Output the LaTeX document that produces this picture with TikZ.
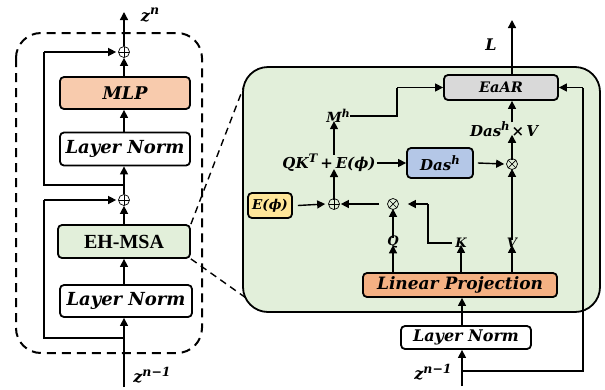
\documentclass[tikz,border=0pt]{standalone}
\usepackage{fontspec}
\usepackage{graphicx}
\setmainfont{DejaVu Serif}
\newfontfamily\timesf{Liberation Serif}
\usetikzlibrary{arrows.meta}
\newcommand\sups[1]{\raisebox{0.4em}{\scalebox{0.78}{#1}}}
\definecolor{mlpc}{HTML}{F8CBAD}
\definecolor{greenc}{HTML}{E2EFDA}
\definecolor{grayc}{HTML}{D9D9D9}
\definecolor{bluec}{HTML}{B4C7E7}
\definecolor{yellowc}{HTML}{FFE699}
\definecolor{lpc}{HTML}{F4B183}
\tikzset{
  box/.style={draw, line width=1.8pt, rounded corners=4pt, inner sep=0pt, font=\bfseries\itshape},
  arr/.style={line width=1.4pt, -{Triangle[length=8pt,width=8pt]}},
  ln/.style={line width=1.4pt},
  lab/.style={inner sep=0pt, font=\bfseries\itshape},
  opl/.style={circle, draw, line width=0.7pt, minimum size=11pt, inner sep=0pt,
    path picture={\draw[line width=0.7pt] (path picture bounding box.north) -- (path picture bounding box.south) (path picture bounding box.west) -- (path picture bounding box.east);}},
  otm/.style={circle, draw, line width=0.7pt, minimum size=11pt, inner sep=0pt,
    path picture={\draw[line width=0.7pt] (path picture bounding box.north west) -- (path picture bounding box.south east) (path picture bounding box.south west) -- (path picture bounding box.north east);}},
}
\begin{document}
\begin{tikzpicture}[x=1pt,y=-1pt]
\useasboundingbox (0,0) rectangle (605,389);
% ---------- left block ----------
\draw[line width=2pt, dash pattern=on 9pt off 6pt, rounded corners=25pt] (16,33) rectangle (202,353);
\node[opl] (p1) at (124,52) {};
\node[opl] (p2) at (124,200) {};
\node[box, fill=mlpc, minimum width=130pt, minimum height=32pt, font=\fontsize{17.5}{20}\selectfont\bfseries\itshape] (mlp) at (125,93) {MLP};
\node[box, fill=white, minimum width=130pt, minimum height=33pt, font=\fontsize{18}{20}\selectfont\bfseries\itshape] (ln1) at (125,149) {Layer Norm};
\node[box, fill=greenc, minimum width=132pt, minimum height=33pt, font=\fontsize{20}{22}\selectfont\timesf\bfseries] (eh) at (124,241.5) {EH-MSA};
\node[box, fill=white, minimum width=132pt, minimum height=32pt, font=\fontsize{18}{20}\selectfont\bfseries\itshape] (ln2) at (126,301) {Layer Norm};
\coordinate (zt) at (124,12);
\coordinate (zb) at (124,387);
\node[lab, font=\fontsize{16}{18}\selectfont\bfseries\itshape] (zn) at (150,15) {z\sups{n}};
\node[lab, font=\fontsize{16}{18}\selectfont\bfseries\itshape] (znm) at (152,375) {z\sups{n−1}};
\draw[arr] (p1.north) -- (zt);
\draw[arr] (mlp.north -| p1) -- (p1.south);
\draw[arr] (ln1.north -| p1) -- (mlp.south -| p1);
\draw[arr] (p2.north) -- (ln1.south -| p2);
\draw[arr] (eh.north -| p2) -- (p2.south);
\draw[arr] (ln2.north -| p2) -- (eh.south -| p2);
\draw[arr] (zb) -- (ln2.south -| zb);
\coordinate (s1) at (124,185);
\coordinate (s2) at (124,338);
\draw[ln] (s1) -- (44,185) -- (44,52);
\draw[arr] (44,52) -- ([xshift=-2pt]p1.west);
\draw[ln] (s2) -- (44,338) -- (44,200);
\draw[arr] (44,200) -- ([xshift=-2pt]p2.west);
% ---------- dashed zoom lines ----------
\coordinate (g1) at (244,86);
\coordinate (g2) at (256,305);
\draw[line width=1.4pt, dash pattern=on 7pt off 5pt] (eh.north east) -- (g1);
\draw[line width=1.4pt, dash pattern=on 7pt off 5pt] (eh.south east) -- (g2);
% ---------- right panel ----------
\draw[line width=1.8pt, fill=greenc, rounded corners=25pt] (243,67) rectangle (600,312);
\node[box, fill=grayc, minimum width=114pt, minimum height=25pt, font=\fontsize{14.5}{16}\selectfont\bfseries\itshape] (ear) at (501,87.5) {EaAR};
\node[box, fill=bluec, minimum width=66pt, minimum height=30pt, font=\fontsize{15}{17}\selectfont\bfseries\itshape] (das) at (440,163) {Das\sups{h}};
\node[box, fill=yellowc, minimum width=44pt, minimum height=25pt, font=\fontsize{13.5}{16}\selectfont\bfseries\itshape] (ephi) at (270,205.5) {E(ϕ)};
\node[box, fill=lpc, minimum width=194pt, minimum height=24pt, font=\fontsize{17}{18}\selectfont\bfseries\itshape] (lp) at (460,285) {Linear Projection};
\node[box, fill=white, minimum width=130pt, minimum height=23pt, font=\fontsize{16}{18}\selectfont\bfseries\itshape] (ln3) at (466,337.5) {Layer Norm};
\node[lab, font=\fontsize{16}{18}\selectfont\bfseries\itshape] (L) at (491,45) {L};
\node[lab, font=\fontsize{14}{16}\selectfont\bfseries\itshape] (mh) at (338,116) {M\sups{h}};
\node[lab, font=\fontsize{15}{18}\selectfont\bfseries\itshape] (qk) at (329,163) {QK\sups{T}\hspace{3pt}+\hspace{3pt}E(ϕ)};
\node[lab, font=\fontsize{15}{18}\selectfont\bfseries\itshape] (dv) at (504,129) {Das\sups{h}\hspace{2pt}×\hspace{2pt}V};
\node[otm] (x1) at (512,164) {};
\node[opl] (p3) at (334,204) {};
\node[otm] (x2) at (393,204) {};
\node[lab, font=\fontsize{13}{14}\selectfont\bfseries\itshape] (q) at (393,242) {Q};
\node[lab, font=\fontsize{13}{14}\selectfont\bfseries\itshape] (k) at (461,243) {K};
\node[lab, font=\fontsize{13}{14}\selectfont\bfseries\itshape] (v) at (512,243) {V};
\node[lab, font=\fontsize{16}{18}\selectfont\bfseries\itshape] (znr) at (433,372) {z\sups{n−1}};
\coordinate (lt) at (512,20);
\coordinate (rb) at (462,386);
\coordinate (br) at (462,371);
% connectors
\draw[arr] (ear.north -| lt) -- (lt);
\draw[ln] (mh.east) -- (397,116) -- (397,87.5);
\draw[arr] (397,87.5) -- (ear.west);
\draw[arr] ([yshift=-1pt]qk.north -| p3) -- ([yshift=2pt]mh.south -| p3);
\draw[arr] ([xshift=1pt]qk.east) -- (das.west);
\draw[arr] ([xshift=4pt]das.east) -- ([xshift=-2pt]x1.west);
\draw[arr] ([yshift=-2pt]x1.north) -- ([yshift=2pt]dv.south -| x1);
\draw[arr] ([yshift=-1pt]dv.north -| x1) -- (ear.south -| x1);
\draw[arr] ([yshift=-2pt]v.north) -- ([yshift=1pt]x1.south);
\draw[arr] ([yshift=-2pt]p3.north) -- ([yshift=3pt]qk.south -| p3);
\draw[arr] ([xshift=5pt]ephi.east) -- ([xshift=-3pt]p3.west);
\draw[arr] ([xshift=-8pt]x2.west) -- ([xshift=1pt]p3.east);
\draw[ln] ([xshift=-3pt]k.west) -- (428,243) -- (428,204);
\draw[arr] (428,204) -- ([xshift=9pt]x2.east);
\draw[arr] ([yshift=-2pt]q.north) -- ([yshift=1pt]x2.south);
\draw[arr] (lp.north -| q) -- ([yshift=3pt]q.south);
\draw[arr] (lp.north -| k) -- ([yshift=3pt]k.south);
\draw[arr] (lp.north -| v) -- ([yshift=3pt]v.south);
\draw[arr] (ln3.north -| rb) -- (lp.south -| rb);
\draw[arr] (rb) -- (ln3.south -| rb);
\draw[ln] (br) -- (583,371) -- (583,87.5);
\draw[arr] (583,87.5) -- (ear.east);
\end{tikzpicture}
\end{document}
